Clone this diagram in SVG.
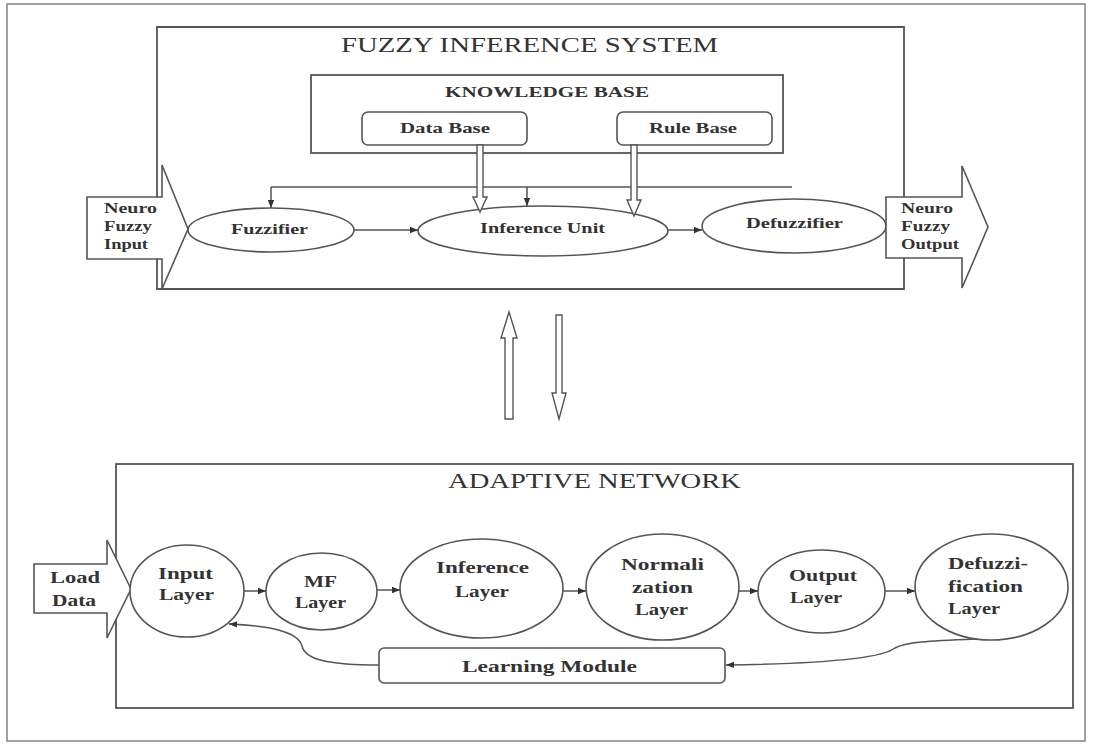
<svg xmlns="http://www.w3.org/2000/svg" width="1093" height="744" viewBox="0 0 1093 744">
  <style>
    .frame { fill: none; stroke: #8a8a8a; stroke-width: 1.6; }
    .box { fill: none; stroke: #555; stroke-width: 1.8; }
    .node { fill: #fff; stroke: #555; stroke-width: 1.6; }
    .conn { fill: none; stroke: #555; stroke-width: 1.5; }
    .hollow { fill: #fff; stroke: #555; stroke-width: 1.4; stroke-linejoin: miter; }
    .title { font-family: "Liberation Serif", "Times New Roman", serif; font-size: 21px; fill: #333; }
    .lbl { font-family: "Liberation Serif", "Times New Roman", serif; font-weight: bold; font-size: 15px; fill: #333; }
    .big { font-size: 16px; }
  </style>
  <defs>
    <marker id="ah" viewBox="0 0 10 10" refX="10" refY="5" markerWidth="9" markerHeight="8" markerUnits="userSpaceOnUse" orient="auto">
      <path d="M0,1 L10,5 L0,9 z" fill="#333"/>
    </marker>
  </defs>

  <rect x="0" y="0" width="1093" height="744" fill="#fff"/>
  <!-- page frame -->
  <rect class="frame" x="7" y="4" width="1078" height="737"/>

  <!-- ===== Fuzzy inference system ===== -->
  <g id="fuzzy-inference-system">
    <!-- outline with openings where the input/output arrows cross -->
    <path class="box" d="M157,197 V27 H904 V197 M904,258 V289 H157 V259"/>
    <text class="title" x="341" y="52" textLength="377" lengthAdjust="spacingAndGlyphs">FUZZY INFERENCE SYSTEM</text>
  </g>

  <g id="knowledge-base">
    <rect class="box" x="311" y="75" width="472" height="78"/>
    <text class="lbl" x="445" y="97" textLength="204" lengthAdjust="spacingAndGlyphs">KNOWLEDGE BASE</text>
  </g>

  <g id="data-base">
    <rect class="node" x="362" y="112" width="165" height="33" rx="6"/>
    <text class="lbl" x="400" y="133" textLength="90" lengthAdjust="spacingAndGlyphs">Data Base</text>
  </g>

  <g id="rule-base">
    <rect class="node" x="617" y="112" width="155" height="33" rx="6"/>
    <text class="lbl" x="649" y="133" textLength="88" lengthAdjust="spacingAndGlyphs">Rule Base</text>
  </g>

  <g id="neuro-fuzzy-input">
    <polygon class="node" points="87,197 162,197 162,165 188,229 162,289 162,259 87,259"/>
    <text class="lbl" x="104" y="213" textLength="53" lengthAdjust="spacingAndGlyphs">Neuro</text>
    <text class="lbl" x="104" y="231" textLength="48" lengthAdjust="spacingAndGlyphs">Fuzzy</text>
    <text class="lbl" x="104" y="249" textLength="44" lengthAdjust="spacingAndGlyphs">Input</text>
  </g>

  <g id="fuzzifier">
    <ellipse class="node" cx="271" cy="230" rx="83" ry="22"/>
    <text class="lbl" x="231" y="234" textLength="77" lengthAdjust="spacingAndGlyphs">Fuzzifier</text>
  </g>

  <g id="inference-unit">
    <ellipse class="node" cx="543" cy="231" rx="125" ry="25"/>
    <text class="lbl" x="480" y="233" textLength="125" lengthAdjust="spacingAndGlyphs">Inference Unit</text>
  </g>

  <g id="defuzzifier">
    <ellipse class="node" cx="794" cy="226" rx="92" ry="27"/>
    <text class="lbl" x="746" y="228" textLength="97" lengthAdjust="spacingAndGlyphs">Defuzzifier</text>
  </g>

  <g id="neuro-fuzzy-output">
    <polygon class="node" points="886,197 962,197 962,166 988,227 962,288 962,258 886,258"/>
    <text class="lbl" x="901" y="213" textLength="52" lengthAdjust="spacingAndGlyphs">Neuro</text>
    <text class="lbl" x="901" y="231" textLength="49" lengthAdjust="spacingAndGlyphs">Fuzzy</text>
    <text class="lbl" x="901" y="249" textLength="58" lengthAdjust="spacingAndGlyphs">Output</text>
  </g>

  <!-- ===== Adaptive network ===== -->
  <g id="adaptive-network">
    <rect class="box" x="116" y="464" width="957" height="244"/>
    <text class="title" x="448" y="488" textLength="293" lengthAdjust="spacingAndGlyphs">ADAPTIVE NETWORK</text>
  </g>

  <g id="load-data">
    <polygon class="node" points="34,564 107,564 107,540 131,589 107,638 107,613 34,613"/>
    <text class="lbl big" x="50" y="583" textLength="50" lengthAdjust="spacingAndGlyphs">Load</text>
    <text class="lbl big" x="52" y="606" textLength="44" lengthAdjust="spacingAndGlyphs">Data</text>
  </g>

  <g id="input-layer">
    <ellipse class="node" cx="187" cy="591" rx="57" ry="46"/>
    <text class="lbl big" x="158" y="579" textLength="55" lengthAdjust="spacingAndGlyphs">Input</text>
    <text class="lbl big" x="159" y="600" textLength="55" lengthAdjust="spacingAndGlyphs">Layer</text>
  </g>

  <g id="mf-layer">
    <ellipse class="node" cx="321.5" cy="591.5" rx="55.5" ry="38.5"/>
    <text class="lbl big" x="304" y="587" textLength="33" lengthAdjust="spacingAndGlyphs">MF</text>
    <text class="lbl big" x="295" y="608" textLength="51" lengthAdjust="spacingAndGlyphs">Layer</text>
  </g>

  <g id="inference-layer">
    <ellipse class="node" cx="481.5" cy="588.5" rx="81.5" ry="49.5"/>
    <text class="lbl big" x="436" y="573" textLength="93" lengthAdjust="spacingAndGlyphs">Inference</text>
    <text class="lbl big" x="455" y="597" textLength="54" lengthAdjust="spacingAndGlyphs">Layer</text>
  </g>

  <g id="normalization-layer">
    <ellipse class="node" cx="662.5" cy="587" rx="76.5" ry="53"/>
    <text class="lbl big" x="621" y="570" textLength="83" lengthAdjust="spacingAndGlyphs">Normali</text>
    <text class="lbl big" x="632" y="593" textLength="61" lengthAdjust="spacingAndGlyphs">zation</text>
    <text class="lbl big" x="635" y="615" textLength="53" lengthAdjust="spacingAndGlyphs">Layer</text>
  </g>

  <g id="output-layer">
    <ellipse class="node" cx="821.5" cy="591.5" rx="63.5" ry="41.5"/>
    <text class="lbl big" x="789" y="581" textLength="68" lengthAdjust="spacingAndGlyphs">Output</text>
    <text class="lbl big" x="790" y="603" textLength="52" lengthAdjust="spacingAndGlyphs">Layer</text>
  </g>

  <g id="defuzzification-layer">
    <ellipse class="node" cx="991.5" cy="587" rx="76.5" ry="53"/>
    <text class="lbl big" x="948" y="569" textLength="80" lengthAdjust="spacingAndGlyphs">Defuzzi-</text>
    <text class="lbl big" x="948" y="592" textLength="75" lengthAdjust="spacingAndGlyphs">fication</text>
    <text class="lbl big" x="948" y="614" textLength="52" lengthAdjust="spacingAndGlyphs">Layer</text>
  </g>

  <g id="learning-module">
    <rect class="node" x="379" y="648" width="346" height="35" rx="5"/>
    <text class="lbl big" x="462" y="672" textLength="175" lengthAdjust="spacingAndGlyphs">Learning Module</text>
  </g>

  <!-- ===== Connectors ===== -->
  <g id="connectors">
    <!-- feedback bus above the fuzzy chain -->
    <path class="conn" d="M271,187 H792"/>
    <path class="conn" d="M271,187 V208" marker-end="url(#ah)"/>
    <path class="conn" d="M527,187 V206" marker-end="url(#ah)"/>

    <!-- knowledge base feeds into the inference unit -->
    <polygon class="hollow" points="477,145 483,145 483,197 487,197 480,212 473,197 477,197"/>
    <polygon class="hollow" points="631,145 637,145 637,200 641,200 634,216 627,200 631,200"/>

    <!-- fuzzy chain -->
    <path class="conn" d="M354,230 H418" marker-end="url(#ah)"/>
    <path class="conn" d="M668,230 H702" marker-end="url(#ah)"/>

    <!-- exchange between the two systems -->
    <polygon class="hollow" points="505,419 513,419 513,338 517,338 509,312 501,338 505,338"/>
    <polygon class="hollow" points="556,315 562,315 562,393 566,393 559,419 552,393 556,393"/>

    <!-- layer chain -->
    <path class="conn" d="M244,591 H266" marker-end="url(#ah)"/>
    <path class="conn" d="M377,590 H400" marker-end="url(#ah)"/>
    <path class="conn" d="M563,591 H586" marker-end="url(#ah)"/>
    <path class="conn" d="M739,591 H758" marker-end="url(#ah)"/>
    <path class="conn" d="M885,591 H915" marker-end="url(#ah)"/>

    <!-- learning loop -->
    <path class="conn" d="M977,639 C930,641 905,642 895,648 C880,660 800,664 726,665" marker-end="url(#ah)"/>
    <path class="conn" d="M379,665 C330,665 305,660 302,646 C298,632 272,626 229,624" marker-end="url(#ah)"/>
  </g>
</svg>
